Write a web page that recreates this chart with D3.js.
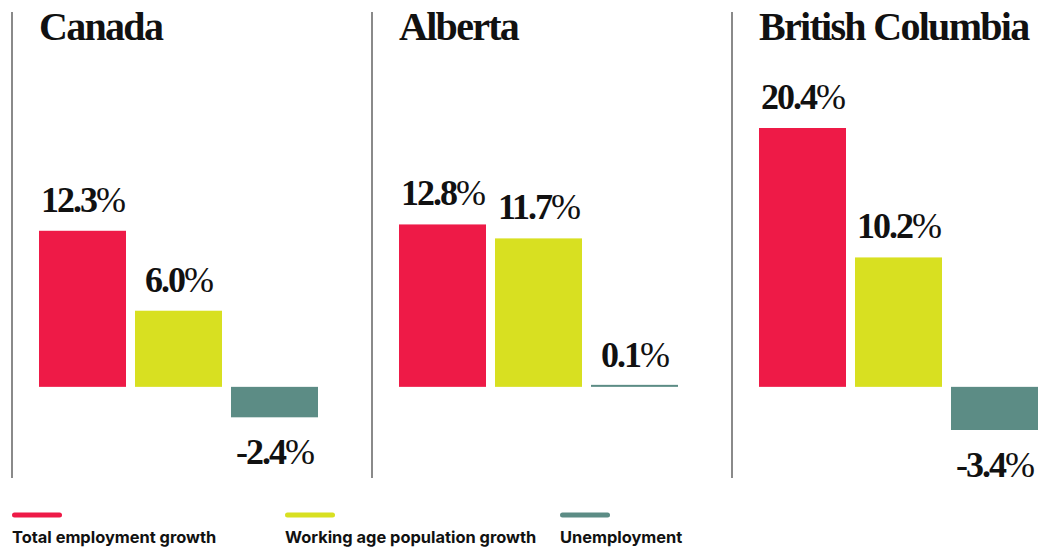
<!DOCTYPE html>
<html>
<head>
<meta charset="utf-8">
<script src="https://cdn.jsdelivr.net/npm/d3@7"></script>
<style>
    html, body { margin: 0; padding: 0; background: #fff; }
    .chart { width: 1046px; height: 548px; }
</style>
</head>
<body>
<div class="chart"></div>
<script>
(function () {
    'use strict';

    const regions = ['Canada', 'Alberta', 'British Columbia'];
    const seriesNames = ['Total employment growth', 'Working age population growth', 'Unemployment'];
    const seriesColors = ['#ee1a47', '#d8e021', '#5c8c85'];

    const totalEmployment = [12.3, 12.8, 20.4];
    const workingAge = [6.0, 11.7, 10.2];
    const unemployment = [-2.4, 0.1, -3.4];

    const valueLabels = [
        ['12.3', '6.0', '-2.4'],
        ['12.8', '11.7', '0.1'],
        ['20.4', '10.2', '-3.4']
    ];

    const width = 1046;
    const height = 548;

    const svg = d3.select('.chart').append('svg')
        .attr('width', width)
        .attr('height', height);

    // one row per region, values in series order
    const data = regions.map(function (r, i) {
        return {
            'region': r,
            'values': [totalEmployment[i], workingAge[i], unemployment[i]]
        };
    });

    const panelX = d3.scaleBand().domain(regions).range([12, 1092]);
    const barX = d3.scaleBand().domain(seriesNames)
        .range([0, 279]).paddingInner(0.09375).paddingOuter(0);

    const allValues = totalEmployment.concat(workingAge, unemployment);
    const y = d3.scaleLinear()
        .domain([d3.min(allValues), d3.max(allValues)])
        .range([430, 128]);

    const colorScale = d3.scaleOrdinal().domain(seriesNames).range(seriesColors);

    const panels = svg.selectAll('g.panel').data(data)
        .enter().append('g').attr('class', 'panel')
        .attr('transform', function (d) {
            return 'translate(' + panelX(d.region) + ', 0)';
        });

    // divider lines
    panels.append('line')
        .attr('x1', 0).attr('x2', 0)
        .attr('y1', 12).attr('y2', 478)
        .attr('stroke', '#8a8a8a')
        .attr('stroke-width', 2);

    panels.append('text')
        .attr('x', 27)
        .attr('y', 40)
        .style('font-family', '"Liberation Serif", serif')
        .style('font-weight', 700)
        .style('font-size', '40px')
        .style('letter-spacing', '-1.7px')
        .attr('fill', '#111')
        .text(function (d) { return d.region; });

    const bars = panels.selectAll('g.bar').data(function (d, i) {
        return d.values.map(function (v, j) {
            return { 'series': seriesNames[j], 'value': v, 'label': valueLabels[i][j] };
        });
    }).enter().append('g').attr('class', 'bar')
        .attr('transform', function (d) {
            return 'translate(' + (27 + barX(d.series)) + ', 0)';
        });

    bars.append('rect')
        .attr('x', 0)
        .attr('width', barX.bandwidth())
        .attr('y', function (d) {
            return d.value >= 0 ? Math.min(y(d.value), y(0) - 2) : y(0);
        })
        .attr('height', function (d) {
            return Math.max(2, Math.abs(y(d.value) - y(0)));
        })
        .attr('fill', function (d) { return colorScale(d.series); });

    const labels = bars.append('text')
        .attr('x', barX.bandwidth() / 2)
        .attr('y', function (d) {
            return d.value >= 0 ? y(d.value) - 19 : y(d.value) + 47;
        })
        .attr('text-anchor', 'middle')
        .style('font-family', '"Liberation Serif", serif')
        .style('font-size', '36px')
        .style('letter-spacing', '-2px')
        .attr('fill', '#111');

    labels.append('tspan').style('font-weight', 700).text(function (d) { return d.label; });
    labels.append('tspan').style('font-weight', 400).text('%');

    // legend
    const legendX = [12, 285, 560];
    const legend = svg.selectAll('g.legend').data(seriesNames)
        .enter().append('g').attr('class', 'legend')
        .attr('transform', function (d, i) {
            return 'translate(' + legendX[i] + ', 0)';
        });

    legend.append('line')
        .attr('x1', 2.5).attr('x2', 47.5)
        .attr('y1', 515).attr('y2', 515)
        .attr('stroke', function (d) { return colorScale(d); })
        .attr('stroke-width', 5)
        .attr('stroke-linecap', 'round');

    legend.append('text')
        .attr('x', 0)
        .attr('y', 543)
        .style('font-family', 'Inter, sans-serif')
        .style('font-weight', 700)
        .style('font-size', '16.4px')
        .attr('fill', '#111')
        .text(function (d) { return d; });
}());
</script>
</body>
</html>
